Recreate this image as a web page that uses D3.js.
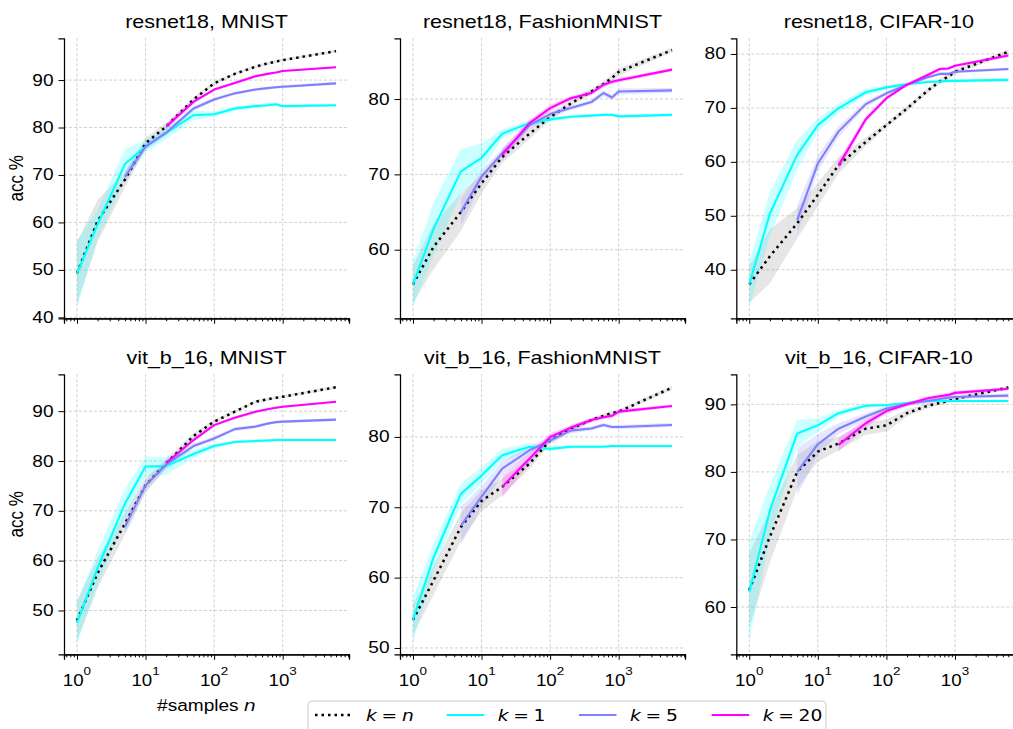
<!DOCTYPE html>
<html><head><meta charset="utf-8">
<script src="https://cdn.jsdelivr.net/npm/d3@7"></script>
<style>body{margin:0;background:#fff;overflow:hidden} svg{display:block}</style>
</head><body><svg id="c" width="1013" height="729"></svg>
<script>
// ---------------- DATA ----------------
const nSamples = [1, 2, 5, 10, 20, 50, 100, 200, 400, 600, 800, 1000, 6000];
const panelTitles = ["resnet18, MNIST", "resnet18, FashionMNIST", "resnet18, CIFAR-10",
                     "vit_b_16, MNIST", "vit_b_16, FashionMNIST", "vit_b_16, CIFAR-10"];
const yTickValues = [[40,50,60,70,80,90],[60,70,80],[40,50,60,70,80],
                     [50,60,70,80,90],[50,60,70,80],[60,70,80,90]];
const xTickExponents = [0, 1, 2, 3];
const legendLabels = ["k = n", "k = 1", "k = 5", "k = 20"];

// resnet18, MNIST
const r18_mnist_kn   = [49.3, 60.3, 69.0, 76.7, 80.2, 85.9, 89.3, 91.3, 92.8, 93.5, 93.9, 94.2, 96.1];
const r18_mnist_kn_sd= [6.5, 4.5, 1.6, 1.2, 0.8, 0.5, 0.4, 0.3, 0.3, 0.3, 0.3, 0.3, 0.3];
const r18_mnist_k1   = [49.2, 59.6, 72.3, 76.0, 78.8, 82.6, 82.8, 84.0, 84.5, 84.7, 84.9, 84.5, 84.7];
const r18_mnist_k1_sd= [7.0, 3.0, 3.2, 1.3, 1.2, 1.0, 0.6, 0.5, 0.4, 0.4, 0.4, 0.3, 0.3];
const r18_mnist_k5   = [null, null, 69.6, 76.0, 78.9, 84.0, 85.9, 87.2, 88.0, 88.3, 88.5, 88.6, 89.3];
const r18_mnist_k5_sd= [null, null, 1.2, 0.8, 0.6, 0.5, 0.4, 0.3, 0.3, 0.3, 0.3, 0.3, 0.3];
const r18_mnist_k20  = [null, null, null, null, 80.2, 85.4, 88.0, 89.4, 90.8, 91.3, 91.6, 91.9, 92.7];
const r18_mnist_k20_sd=[null, null, null, null, 0.6, 0.4, 0.3, 0.3, 0.3, 0.2, 0.2, 0.2, 0.2];

// resnet18, FashionMNIST
const r18_fmnist_kn   = [55.4, 60.4, 65.0, 68.8, 72.3, 75.4, 77.6, 79.4, 81.0, 82.0, 82.8, 83.6, 86.5];
const r18_fmnist_kn_sd= [2.5, 3.0, 2.5, 1.3, 0.8, 0.7, 0.5, 0.4, 0.4, 0.4, 0.5, 0.5, 0.3];
const r18_fmnist_k1   = [55.4, 62.8, 70.4, 72.2, 75.4, 76.8, 77.3, 77.65, 77.8, 77.9, 77.9, 77.7, 77.9];
const r18_fmnist_k1_sd= [3.0, 3.5, 3.0, 1.9, 0.6, 0.4, 0.3, 0.2, 0.2, 0.2, 0.2, 0.2, 0.2];
const r18_fmnist_k5   = [null, null, 65.0, 69.7, 72.8, 76.5, 78.0, 78.8, 79.6, 80.8, 80.2, 81.0, 81.15];
const r18_fmnist_k5_sd= [null, null, 1.8, 0.8, 0.6, 0.5, 0.4, 0.3, 0.3, 0.4, 0.4, 0.4, 0.3];
const r18_fmnist_k20  = [null, null, null, null, 72.6, 76.8, 78.8, 80.1, 80.8, 81.9, 82.3, 82.5, 83.9];
const r18_fmnist_k20_sd=[null, null, null, null, 0.8, 0.5, 0.4, 0.3, 0.3, 0.3, 0.3, 0.3, 0.2];

// resnet18, CIFAR-10
const r18_cifar_kn   = [37.3, 42.5, 48.6, 53.9, 59.4, 63.7, 66.8, 69.9, 73.2, 74.9, 75.8, 76.7, 80.4];
const r18_cifar_kn_sd= [3.4, 5.0, 2.8, 2.2, 1.5, 0.8, 0.5, 0.5, 0.5, 0.5, 0.5, 0.5, 0.4];
const r18_cifar_k1   = [37.3, 50.4, 61.3, 66.8, 69.9, 72.9, 73.8, 74.4, 74.8, 74.9, 75.0, 75.0, 75.2];
const r18_cifar_k1_sd= [4.2, 4.0, 2.8, 1.2, 0.9, 0.6, 0.4, 0.3, 0.3, 0.3, 0.3, 0.3, 0.3];
const r18_cifar_k5   = [null, null, 49.2, 59.7, 65.6, 70.7, 72.7, 74.3, 75.7, 76.3, 76.3, 76.7, 77.2];
const r18_cifar_k5_sd= [null, null, 2.8, 1.5, 1.0, 0.6, 0.4, 0.3, 0.3, 0.3, 0.3, 0.3, 0.3];
const r18_cifar_k20  = [null, null, null, null, 59.3, 67.9, 71.8, 74.3, 76.1, 77.2, 77.3, 77.8, 79.7];
const r18_cifar_k20_sd=[null, null, null, null, 1.0, 0.6, 0.4, 0.3, 0.3, 0.3, 0.3, 0.3, 0.3];

// vit_b_16, MNIST
const vit_mnist_kn   = [48.0, 57.5, 67.4, 75.1, 79.5, 85.0, 87.9, 89.9, 91.9, 92.4, 92.7, 92.9, 94.8];
const vit_mnist_kn_sd= [4.0, 3.0, 2.2, 1.5, 1.0, 0.6, 0.4, 0.3, 0.3, 0.3, 0.3, 0.3, 0.3];
const vit_mnist_k1   = [47.5, 58.5, 71.4, 78.9, 79.0, 81.4, 83.0, 83.8, 84.0, 84.1, 84.2, 84.2, 84.2];
const vit_mnist_k1_sd= [4.2, 3.5, 3.0, 2.0, 1.8, 0.8, 0.5, 0.3, 0.3, 0.3, 0.3, 0.3, 0.3];
const vit_mnist_k5   = [null, null, 66.8, 75.1, 79.3, 83.0, 84.5, 86.4, 86.9, 87.5, 87.8, 87.9, 88.3];
const vit_mnist_k5_sd= [null, null, 1.5, 1.0, 0.8, 0.5, 0.4, 0.4, 0.3, 0.3, 0.3, 0.3, 0.3];
const vit_mnist_k20  = [null, null, null, null, 79.6, 84.2, 87.2, 88.7, 89.9, 90.4, 90.7, 90.9, 91.9];
const vit_mnist_k20_sd=[null, null, null, null, 0.5, 0.4, 0.3, 0.3, 0.3, 0.2, 0.2, 0.2, 0.2];

// vit_b_16, FashionMNIST
const vit_fmnist_kn   = [54.0, 59.6, 67.2, 70.9, 72.9, 76.2, 79.5, 81.2, 82.4, 83.0, 83.4, 83.6, 87.0];
const vit_fmnist_kn_sd= [2.2, 2.0, 2.0, 1.5, 1.2, 0.8, 0.5, 0.4, 0.3, 0.3, 0.3, 0.3, 0.3];
const vit_fmnist_k1   = [54.0, 62.9, 71.9, 74.5, 77.4, 78.6, 78.3, 78.6, 78.6, 78.6, 78.7, 78.7, 78.7];
const vit_fmnist_k1_sd= [3.2, 2.0, 1.5, 1.2, 0.9, 0.5, 0.3, 0.2, 0.2, 0.2, 0.2, 0.2, 0.2];
const vit_fmnist_k5   = [null, null, 67.4, 71.5, 75.5, 78.1, 79.5, 80.9, 81.2, 81.7, 81.4, 81.4, 81.7];
const vit_fmnist_k5_sd= [null, null, 2.7, 1.5, 1.0, 0.6, 0.4, 0.4, 0.3, 0.3, 0.3, 0.3, 0.3];
const vit_fmnist_k20  = [null, null, null, null, 72.9, 76.9, 80.0, 81.3, 82.4, 82.8, 83.0, 83.6, 84.4];
const vit_fmnist_k20_sd=[null, null, null, null, 1.5, 0.8, 0.5, 0.4, 0.3, 0.3, 0.3, 0.3, 0.2];

// vit_b_16, CIFAR-10
const vit_cifar_kn   = [62.5, 70.4, 80.0, 83.0, 84.2, 86.4, 86.9, 88.7, 89.8, 90.2, 90.5, 90.8, 92.5];
const vit_cifar_kn_sd= [5.5, 3.8, 2.5, 1.5, 1.0, 0.9, 0.9, 0.5, 0.4, 0.3, 0.3, 0.3, 0.3];
const vit_cifar_k1   = [62.2, 74.3, 85.7, 86.9, 88.7, 89.8, 89.9, 90.2, 90.5, 90.5, 90.5, 90.5, 90.5];
const vit_cifar_k1_sd= [7.5, 3.8, 2.0, 1.0, 0.5, 0.3, 0.2, 0.2, 0.2, 0.2, 0.2, 0.2, 0.2];
const vit_cifar_k5   = [null, null, 80.0, 84.1, 86.4, 88.2, 89.4, 90.1, 90.5, 90.8, 91.0, 91.1, 91.3];
const vit_cifar_k5_sd= [null, null, 3.5, 1.5, 0.8, 0.5, 0.4, 0.3, 0.3, 0.3, 0.3, 0.3, 0.3];
const vit_cifar_k20  = [null, null, null, null, 84.0, 87.2, 89.0, 90.0, 90.9, 91.2, 91.4, 91.7, 92.3];
const vit_cifar_k20_sd=[null, null, null, null, 1.0, 0.6, 0.4, 0.3, 0.3, 0.3, 0.3, 0.3, 0.2];

// ---------------- ASSEMBLY ----------------
const panelSeries = [
  [[r18_mnist_kn, r18_mnist_kn_sd], [r18_mnist_k1, r18_mnist_k1_sd], [r18_mnist_k5, r18_mnist_k5_sd], [r18_mnist_k20, r18_mnist_k20_sd]],
  [[r18_fmnist_kn, r18_fmnist_kn_sd], [r18_fmnist_k1, r18_fmnist_k1_sd], [r18_fmnist_k5, r18_fmnist_k5_sd], [r18_fmnist_k20, r18_fmnist_k20_sd]],
  [[r18_cifar_kn, r18_cifar_kn_sd], [r18_cifar_k1, r18_cifar_k1_sd], [r18_cifar_k5, r18_cifar_k5_sd], [r18_cifar_k20, r18_cifar_k20_sd]],
  [[vit_mnist_kn, vit_mnist_kn_sd], [vit_mnist_k1, vit_mnist_k1_sd], [vit_mnist_k5, vit_mnist_k5_sd], [vit_mnist_k20, vit_mnist_k20_sd]],
  [[vit_fmnist_kn, vit_fmnist_kn_sd], [vit_fmnist_k1, vit_fmnist_k1_sd], [vit_fmnist_k5, vit_fmnist_k5_sd], [vit_fmnist_k20, vit_fmnist_k20_sd]],
  [[vit_cifar_kn, vit_cifar_kn_sd], [vit_cifar_k1, vit_cifar_k1_sd], [vit_cifar_k5, vit_cifar_k5_sd], [vit_cifar_k20, vit_cifar_k20_sd]],
];

// styles
const seriesStyle = [
  {stroke: "#000000", width: 2.5, dash: "2.5,4", band: "#808080", bandOp: 0.2},
  {stroke: "#00ffff", width: 2.1, dash: null, band: "#00ffff", bandOp: 0.2},
  {stroke: "#8080ff", width: 2.1, dash: null, band: "#8080ff", bandOp: 0.2},
  {stroke: "#ff00ff", width: 2.1, dash: null, band: "#ff00ff", bandOp: 0.2},
];
const yDomains = [[39.8, 98.8], [50.9, 88.06], [31.0, 82.9], [41.2, 97.4], [49.1, 88.9], [53.0, 94.45]];

const SX = 1.17; // horizontal text stretch of the reference
const SANS = "'Liberation Sans', Arial, Helvetica, sans-serif";
const MATH = "'DejaVu Sans', sans-serif";

const svg = d3.select("#c");
svg.append("rect").attr("width", 1013).attr("height", 729).attr("fill", "#fff");

const colLeft = [64, 400, 736.3];
const rowTop = [38.3, 374.3];
const PW = 285, PH = 280;

function txt(g, x, y, s, o = {}) {
  const t = g.append("text")
    .attr("transform", `translate(${x},${y}) scale(${SX},1)` + (o.rot ? ` rotate(${o.rot})` : ""))
    .attr("font-family", o.family || SANS)
    .attr("font-size", o.size || 16)
    .attr("fill", "#000")
    .attr("text-anchor", o.anchor || "start");
  if (o.baseline) t.attr("dominant-baseline", o.baseline);
  t.text(s);
  return t;
}

const Rlog = Math.log10(d3.max(nSamples));
const xDom = [Math.pow(10, -0.05 * Rlog), Math.pow(10, 1.05 * Rlog)];

for (let p = 0; p < 6; p++) {
  const r = Math.floor(p / 3), c = p % 3;
  const g = svg.append("g").attr("transform", `translate(${colLeft[c]},${rowTop[r]})`);
  const x = d3.scaleLog().domain(xDom).range([0, PW]);
  const y = d3.scaleLinear().domain(yDomains[p]).range([PH, 0]);

  // grid
  const majors = xTickExponents.map(e => Math.pow(10, e));
  g.append("g").selectAll("line").data(majors).join("line")
    .attr("x1", d => x(d)).attr("x2", d => x(d)).attr("y1", 0).attr("y2", PH)
    .attr("stroke", "#c4c4c4").attr("stroke-width", 0.8).attr("stroke-dasharray", "3,2");
  g.append("g").selectAll("line").data(yTickValues[p]).join("line")
    .attr("x1", 0).attr("x2", PW).attr("y1", d => y(d)).attr("y2", d => y(d))
    .attr("stroke", "#c4c4c4").attr("stroke-width", 0.8).attr("stroke-dasharray", "3,2");

  // bands and lines
  const series = panelSeries[p];
  series.forEach((s, i) => {
    const pts = nSamples.map((n, j) => ({n, v: s[0][j], sd: s[1][j]}));
    const st = seriesStyle[i];
    const area = d3.area().defined(d => d.v != null)
      .x(d => x(d.n)).y0(d => y(d.v - d.sd)).y1(d => y(d.v + d.sd));
    g.append("path").datum(pts).attr("d", area)
      .attr("fill", st.band).attr("fill-opacity", st.bandOp).attr("stroke", "none");
  });
  series.forEach((s, i) => {
    const pts = nSamples.map((n, j) => ({n, v: s[0][j]}));
    const st = seriesStyle[i];
    const line = d3.line().defined(d => d.v != null).x(d => x(d.n)).y(d => y(d.v));
    const path = g.append("path").datum(pts).attr("d", line)
      .attr("fill", "none").attr("stroke", st.stroke).attr("stroke-width", st.width)
      .attr("stroke-linejoin", "round");
    if (st.dash) path.attr("stroke-dasharray", st.dash);
  });

  // axes (left & bottom spines)
  const minors = [];
  for (let e = -1; e <= 3; e++) for (let m = 2; m <= 9; m++) {
    const v = m * Math.pow(10, e);
    if (v >= xDom[0] && v <= xDom[1]) minors.push(v);
  }
  const xAxisMinor = d3.axisBottom(x).tickValues(minors).tickSize(3).tickFormat("");
  const xAxis = d3.axisBottom(x).tickValues(majors).tickSize(5.5).tickFormat("");
  const gxm = g.append("g").attr("transform", `translate(0,${PH})`).call(xAxisMinor);
  const gx = g.append("g").attr("transform", `translate(0,${PH})`).call(xAxis);
  [gxm, gx].forEach(a => {
    a.select(".domain").attr("stroke", "#000").attr("stroke-width", 1.25);
    a.selectAll(".tick line").attr("stroke", "#000").attr("stroke-width", 1.0);
  });
  if (r === 1) {
    majors.forEach((m, k) => {
      const t = txt(g, x(m), PH + 31.7, "10", {size: 16, anchor: "middle"});
      t.append("tspan").attr("dy", -10.7).attr("font-size", 11.5).text(String(xTickExponents[k]));
    });
  }
  const yAxis = d3.axisLeft(y).tickValues(yTickValues[p]).tickSize(5.5).tickFormat("");
  const gy = g.append("g").call(yAxis);
  gy.select(".domain").attr("stroke", "#000").attr("stroke-width", 1.25);
  gy.selectAll(".tick line").attr("stroke", "#000").attr("stroke-width", 1.0);
  yTickValues[p].forEach(v => {
    txt(g, -10.5, y(v), String(v), {size: 16.3, anchor: "end", baseline: "central"});
  });

  // title
  txt(g, PW / 2, r === 0 ? -10 : -10.3, panelTitles[p], {size: 18.4, anchor: "middle"});

  if (c === 0) {
    txt(g, -41.5, PH / 2, "acc %", {size: 17, anchor: "middle", rot: -90});
  }
  if (p === 3) {
    const t = txt(g, PW / 2, PH + 57, "#samples ", {size: 16.3, anchor: "middle"});
    t.append("tspan").attr("font-family", MATH).attr("font-style", "italic").text("n");
  }
}

// legend
const lg = svg.append("g");
lg.append("rect").attr("x", 308).attr("y", 701).attr("width", 518).attr("height", 40)
  .attr("rx", 4).attr("fill", "#fff").attr("fill-opacity", 0.8)
  .attr("stroke", "#cccccc").attr("stroke-width", 1);
const legLineX = [315, 446.7, 579, 711.7];
const legY = 715;
legendLabels.forEach((lab, i) => {
  const st = seriesStyle[i];
  const l = lg.append("line").attr("x1", legLineX[i]).attr("x2", legLineX[i] + 37.5)
    .attr("y1", legY).attr("y2", legY).attr("stroke", st.stroke).attr("stroke-width", st.width);
  if (st.dash) l.attr("stroke-dasharray", st.dash);
  const parts = lab.split(" = ");
  const t = txt(lg, legLineX[i] + 51, legY + 6, "", {size: 16, family: MATH});
  t.append("tspan").attr("font-style", "italic").text(parts[0]);
  t.append("tspan").text("\u2005=\u2005");
  const isNum = /^\d+$/.test(parts[1]);
  t.append("tspan").attr("font-style", isNum ? "normal" : "italic").text(parts[1]);
});
</script>
</body></html>
